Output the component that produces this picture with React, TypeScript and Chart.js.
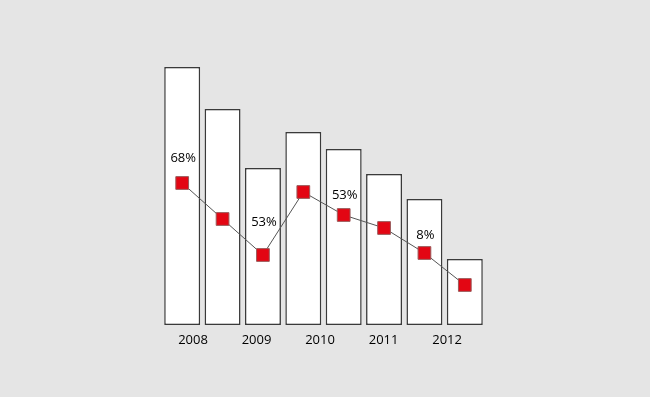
import React, { useEffect, useRef } from "react";
import { Chart, registerables } from "chart.js";

Chart.register(...registerables);

const categories = ["A", "B", "C", "D", "E", "F", "G", "H"];
const barValues = [258, 216, 157, 193, 176, 151, 126, 66];
const lineValues = [142, 106, 70, 133, 110, 97, 72, 40];
const pointLabels = ["68%", "", "53%", "", "53%", "", "8%", ""];
const yearTicks = [2008, 2009, 2010, 2011, 2012];

const labelOffsets = [-25, 0, -33, 0, -20, 0, -18, 0];

const pointLabelPlugin = {
  id: "pointLabels",
  afterDatasetsDraw(chart: any) {
    const meta = chart.getDatasetMeta(1);
    const ctx = chart.ctx;
    ctx.save();
    ctx.font = "13px 'Open Sans'";
    ctx.fillStyle = "#000";
    ctx.textAlign = "center";
    ctx.textBaseline = "middle";
    meta.data.forEach((pt: any, i: number) => {
      const t = pointLabels[i];
      if (!t) return;
      ctx.fillText(t, pt.x + 1, pt.y + labelOffsets[i]);
    });
    ctx.restore();
  },
};

export default function App() {
  const ref = useRef<HTMLCanvasElement | null>(null);
  useEffect(() => {
    document.body.style.margin = "0";
    if (!ref.current) return;
    const chart = new Chart(ref.current, {
      type: "bar",
      data: {
        labels: categories,
        datasets: [
          {
            type: "bar",
            data: barValues,
            backgroundColor: "#ffffff",
            borderColor: "#3a3a3a",
            borderWidth: 1.5,
            borderSkipped: false,
            barPercentage: 0.89,
            categoryPercentage: 1,
            order: 2,
            xAxisID: "x",
          },
          {
            type: "line",
            data: lineValues,
            borderColor: "#555555",
            borderWidth: 1,
            pointStyle: "rect",
            pointRadius: 9,
            pointBackgroundColor: "#e30613",
            pointBorderColor: "#9a5a5a",
            pointBorderWidth: 1,
            order: 1,
            xAxisID: "x",
          } as any,
        ],
      },
      options: {
        animation: false,
        responsive: false,
        devicePixelRatio: 1,
        layout: { padding: { left: 162, right: 165, top: 25, bottom: 0 } },
        plugins: { legend: { display: false }, tooltip: { enabled: false } },
        scales: {
          x: { display: false },
          x2: {
            type: "linear",
            position: "bottom",
            bounds: "data",
            offset: false,
            min: yearTicks[0] - 0.488,
            max: yearTicks[yearTicks.length - 1] + 0.597,
            grid: { display: false, drawTicks: false },
            border: { display: false },
            afterBuildTicks: (s: any) => {
              s.ticks = yearTicks.map((v) => ({ value: v }));
            },
            afterFit: (s: any) => {
              s.height = 72;
            },
            ticks: {
              autoSkip: false,
              maxRotation: 0,
              padding: 7,
              color: "#000",
              font: { family: "'Open Sans'", size: 13 },
              callback: (v: any) => String(v),
            },
          } as any,
          y: { display: false, min: 0, max: 300 },
        },
      },
      plugins: [pointLabelPlugin],
    });
    return () => chart.destroy();
  }, []);
  return (
    <div style={{ width: 650, height: 397, background: "#e5e5e5" }}>
      <canvas ref={ref} width={650} height={397} />
    </div>
  );
}
